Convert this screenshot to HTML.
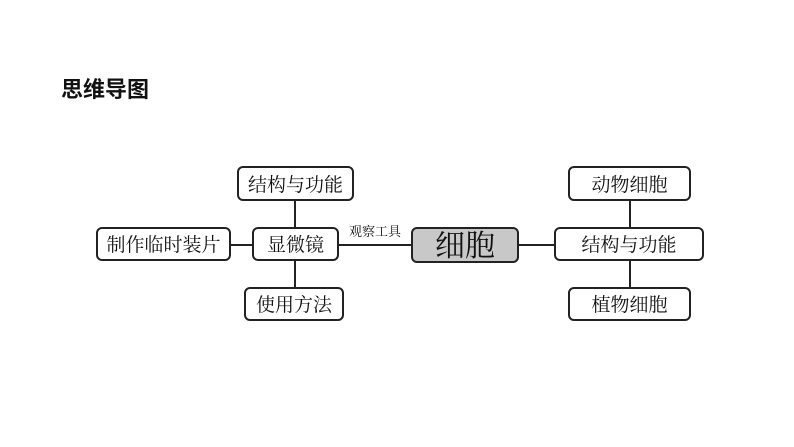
<!DOCTYPE html>
<html><head><meta charset="utf-8"><style>
html,body{margin:0;padding:0;background:#fff;}
svg{display:block;}
text{font-family:"Liberation Serif","Noto Serif CJK SC","Noto Sans CJK SC",serif;fill:#111;}
</style></head><body>
<svg width="794" height="447" viewBox="0 0 794 447" xmlns="http://www.w3.org/2000/svg">
<text x="61" y="97" font-size="22" font-weight="bold" style="font-family:'Liberation Sans','Noto Sans CJK SC',sans-serif">思维导图</text>
<g stroke="#222" stroke-width="2" fill="none">
<line x1="295" y1="200" x2="295" y2="228"/>
<line x1="295" y1="260" x2="295" y2="288"/>
<line x1="230" y1="245" x2="253" y2="245"/>
<line x1="338" y1="245" x2="412" y2="245"/>
<line x1="518" y1="245" x2="555" y2="245"/>
<line x1="630" y1="200" x2="630" y2="228"/>
<line x1="630" y1="260" x2="630" y2="288"/>
</g>
<g stroke="#222" stroke-width="2" fill="#fff">
<rect x="238" y="167" width="115" height="33" rx="5"/>
<rect x="97" y="228" width="133" height="32" rx="5"/>
<rect x="253" y="228" width="85" height="32" rx="5"/>
<rect x="245" y="288" width="98" height="32" rx="5"/>
<rect x="412" y="228" width="106" height="34" rx="5" fill="#c8c8c8"/>
<rect x="569" y="167" width="121" height="33" rx="5"/>
<rect x="555" y="228" width="148" height="32" rx="5"/>
<rect x="569" y="288" width="121" height="32" rx="5"/>
</g>
<g font-size="19" text-anchor="middle">
<text x="295.5" y="191">结构与功能</text>
<text x="163.5" y="251">制作临时装片</text>
<text x="295.5" y="251">显微镜</text>
<text x="294" y="311">使用方法</text>
<text x="629.5" y="191">动物细胞</text>
<text x="629" y="251">结构与功能</text>
<text x="629.5" y="311">植物细胞</text>
</g>
<text x="465" y="256" font-size="30" text-anchor="middle">细胞</text>
<text x="375" y="236" font-size="13" text-anchor="middle">观察工具</text>
</svg>
</body></html>
